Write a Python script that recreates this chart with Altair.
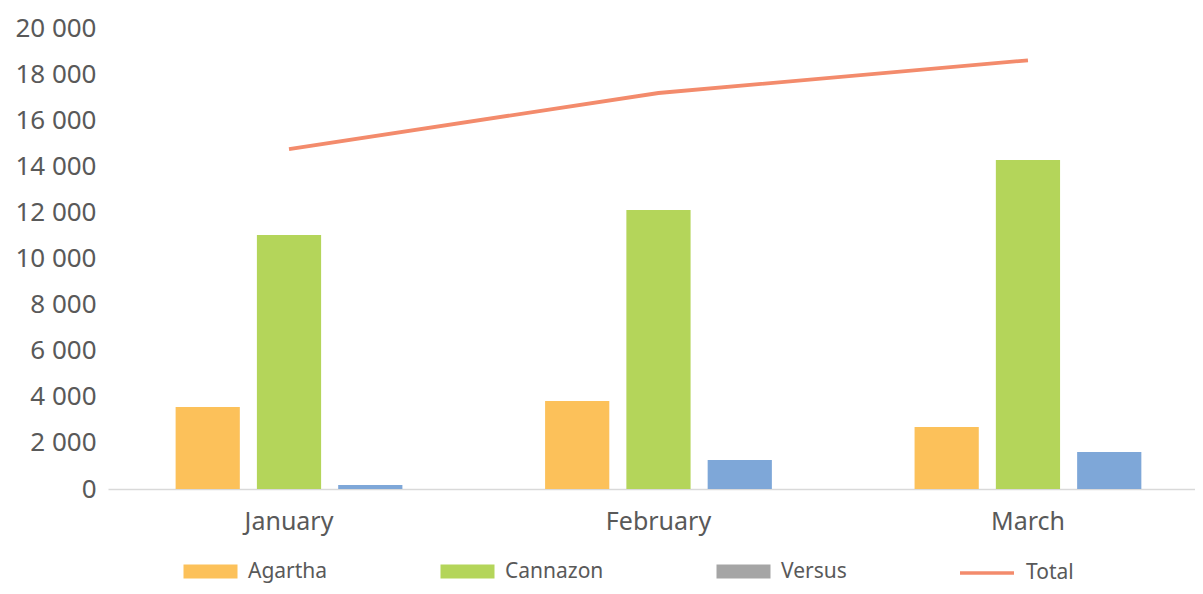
import altair as alt
import pandas as pd

months = ["January", "February", "March"]
bar_series = ["Agartha", "Cannazon", "Versus"]
agartha = [3560, 3820, 2690]
cannazon = [11020, 12100, 14270]
versus = [170, 1260, 1600]
total = [14750, 17180, 18600]
y_ticks = [0, 2000, 4000, 6000, 8000, 10000, 12000, 14000, 16000, 18000, 20000]

bar_legend_colors = ["#FCC15A", "#B4D55A", "#A5A5A5"]
versus_bar_color = "#7EA7D8"
total_color = "#F38B6C"

rows = []
for i, m in enumerate(months):
    rows.append({"month": m, "series": "Agartha", "value": agartha[i]})
    rows.append({"month": m, "series": "Cannazon", "value": cannazon[i]})
    rows.append({"month": m, "series": "Versus", "value": versus[i]})
    rows.append({"month": m, "series": "Total", "value": total[i]})
df = pd.DataFrame(rows)

FONT = "Noto Sans"
TXT = "#595959"

common_legend = dict(
    title=None,
    orient="none",
    direction="horizontal",
    padding=0,
    symbolSize=400,
    labelOffset=27,
    labelFont=FONT,
    labelFontSize=21,
    labelColor=TXT,
    labelLimit=300,
    symbolOpacity=1,
)

bar_legend = alt.Legend(
    legendX=92,
    legendY=533,
    columns=3,
    gridAlign="none",
    columnPadding=112,
    symbolType="M-2.7,-0.7H2.7V0.7H-2.7Z",
    symbolStrokeWidth=0,
    **common_legend,
)
line_legend = alt.Legend(
    legendX=867,
    legendY=533,
    symbolType="M-2.7,0H2.7",
    symbolStrokeWidth=3.5,
    **common_legend,
)

x_axis = alt.Axis(
    title=None,
    labelFont=FONT,
    labelFontSize=25,
    labelColor=TXT,
    labelPadding=20,
    ticks=False,
    tickSize=0,
    domainColor="#D9D9D9",
    domainWidth=1.5,
    labelAngle=0,
    grid=False,
)
y_axis = alt.Axis(
    title=None,
    values=y_ticks,
    labelFont=FONT,
    labelFontSize=26,
    labelColor=TXT,
    labelPadding=12,
    ticks=False,
    tickSize=0,
    domain=False,
    grid=False,
    labelExpr="replace(format(datum.value, ','), ',', ' ')",
)

x_scale = alt.Scale(paddingInner=0.34, paddingOuter=0.141, align=0.567)

base = alt.Chart(df)

bars = base.transform_filter(alt.datum.series != "Total").mark_bar().encode(
    x=alt.X("month:N", sort=months, axis=x_axis, scale=x_scale),
    xOffset=alt.XOffset("series:N", sort=bar_series,
                        scale=alt.Scale(paddingInner=0.21, paddingOuter=0.105)),
    y=alt.Y("value:Q", axis=y_axis, scale=alt.Scale(domain=[0, 20000], nice=False)),
    fill=alt.condition(
        alt.datum.series == "Versus",
        alt.value(versus_bar_color),
        alt.Fill("series:N", sort=bar_series,
                 scale=alt.Scale(domain=bar_series, range=bar_legend_colors),
                 legend=bar_legend),
    ),
)

line = base.transform_filter(alt.datum.series == "Total").mark_line(strokeWidth=3.8).encode(
    x=alt.X("month:N", sort=months, scale=x_scale),
    y=alt.Y("value:Q"),
    stroke=alt.Stroke("series:N",
                      scale=alt.Scale(domain=["Total"], range=[total_color]),
                      legend=line_legend),
)

chart = alt.layer(bars, line).properties(
    width=1087,
    height=461,
    background="white",
    autosize=alt.AutoSizeParams(type="none"),
    padding={"left": 100, "top": 20, "right": 0, "bottom": 97},
).configure_view(stroke=None)

chart.save("out.html", embed_options={"renderer": "svg", "actions": False})
